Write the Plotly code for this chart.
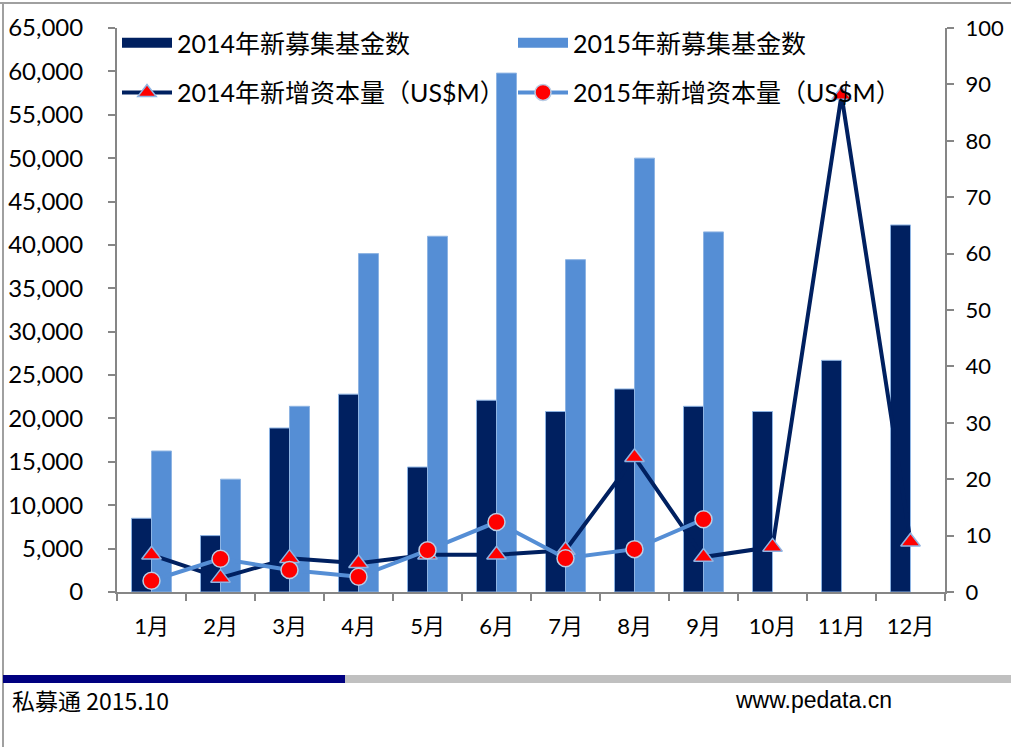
import plotly.graph_objects as go

months = ["1月", "2月", "3月", "4月", "5月", "6月", "7月", "8月", "9月", "10月", "11月", "12月"]
funds_2014 = [8500, 6500, 18900, 22800, 14400, 22100, 20800, 23400, 21400, 20800, 26700, 42300]
funds_2015 = [16250, 13000, 21400, 39000, 41000, 59800, 38300, 50000, 41500]
capital_2014 = [6.6, 2.5, 6.0, 5.1, 6.6, 6.6, 7.4, 23.9, 6.2, 8.0, 88.1, 8.9]
capital_2015 = [2.0, 5.9, 3.9, 2.7, 7.4, 12.4, 6.0, 7.6, 12.9]

NAVY = "#002060"
LBLUE = "#558ed5"
FONT = "Lato, Noto Sans CJK SC, sans-serif"

fig = go.Figure()
fig.add_trace(go.Bar(x=months, y=funds_2014, name="2014年新募集基金数",
                     marker=dict(color=NAVY, line=dict(color="#8eb4e3", width=1)),
                     showlegend=False))
fig.add_trace(go.Bar(x=months[:len(funds_2015)], y=funds_2015, name="2015年新募集基金数",
                     marker=dict(color=LBLUE, line=dict(color="#8eb4e3", width=1)),
                     showlegend=False))
# legend swatches for the bar series (wide rectangles like the reference)
fig.add_trace(go.Scatter(x=[None], y=[None], name="2014年新募集基金数", mode="lines",
                         line=dict(color=NAVY, width=14), legend="legend"))
fig.add_trace(go.Scatter(x=[None], y=[None], name="2015年新募集基金数", mode="lines",
                         line=dict(color=LBLUE, width=14), legend="legend"))
fig.add_trace(go.Scatter(x=months, y=capital_2014, name="2014年新增资本量（US$M）",
                         yaxis="y2", mode="lines+markers",
                         line=dict(color=NAVY, width=4),
                         marker=dict(symbol="triangle-up", size=17, color="#ff0000",
                                     line=dict(color="#8eb4e3", width=1.5)),
                         legend="legend2"))
fig.add_trace(go.Scatter(x=months[:len(capital_2015)], y=capital_2015, name="2015年新增资本量（US$M）",
                         yaxis="y2", mode="lines+markers",
                         line=dict(color=LBLUE, width=4),
                         marker=dict(symbol="circle", size=17, color="#ff0000",
                                     line=dict(color="#b9cde5", width=1.5)),
                         legend="legend2"))

axis_line = "#868686"
fig.update_layout(
    width=1011, height=747,
    margin=dict(l=117, r=66, t=28, b=155, autoexpand=False),
    paper_bgcolor="white", plot_bgcolor="white",
    font=dict(family=FONT, size=20, color="black"),
    barmode="group", bargap=0.42, bargroupgap=0,
    showlegend=True,
    xaxis=dict(type="category", range=[-0.5, 11.5], showline=True, linecolor=axis_line, linewidth=2,
               ticks="outside", tickson="boundaries", ticklen=7, tickcolor=axis_line,
               tickwidth=2, showgrid=False, tickfont=dict(size=22, family=FONT),
               ticklabelstandoff=14, automargin=False),
    yaxis=dict(range=[0, 65000], dtick=5000, tickformat=",", showline=True,
               linecolor=axis_line, linewidth=2, ticks="outside", ticklen=7,
               tickcolor=axis_line, tickwidth=2, showgrid=False, zeroline=False,
               tickfont=dict(size=24, family=FONT), ticklabelstandoff=20, automargin=False),
    yaxis2=dict(range=[0, 100], dtick=10, overlaying="y", side="right", showline=True,
                linecolor=axis_line, linewidth=2, ticks="outside", ticklen=7,
                tickcolor=axis_line, tickwidth=2, showgrid=False, zeroline=False,
                tickfont=dict(size=22, family=FONT), ticklabelstandoff=7, automargin=False),
    legend=dict(orientation="h", x=0.0, y=1.014, xanchor="left", yanchor="top",
                entrywidth=331, entrywidthmode="pixels", itemwidth=50, bgcolor="rgba(0,0,0,0)",
                font=dict(size=25, family=FONT), traceorder="normal"),
    legend2=dict(orientation="h", x=0.0, y=0.926, xanchor="left", yanchor="top",
                 entrywidth=331, entrywidthmode="pixels", itemwidth=50, bgcolor="rgba(0,0,0,0)",
                 font=dict(size=25, family=FONT), traceorder="normal"),
)

# frame and footer
fig.add_shape(type="line", xref="paper", yref="paper", x0=-117/828, x1=(1011-117)/828,
              y0=1 + 25/564, y1=1 + 25/564, line=dict(color="#a0a0a0", width=2))
fig.add_shape(type="line", xref="paper", yref="paper", x0=-114/828, x1=-114/828,
              y0=-155/564, y1=1 + 25/564, line=dict(color="#a0a0a0", width=2))
fig.add_shape(type="rect", xref="paper", yref="paper", x0=-114/828, x1=(345-117)/828,
              y0=-(683-592)/564, y1=-(675-592)/564, fillcolor="#000080", line=dict(width=0))
fig.add_shape(type="rect", xref="paper", yref="paper", x0=(345-117)/828, x1=(1011-117)/828,
              y0=-(683-592)/564, y1=-(675-592)/564, fillcolor="#c0c0c0", line=dict(width=0))
fig.add_annotation(text="私募通 2015.10", xref="paper", yref="paper",
                   x=(10-117)/828, y=-(700-592)/564, xanchor="left", yanchor="middle",
                   showarrow=False, font=dict(size=23, family="Liberation Sans Narrow, Noto Sans CJK SC", color="black"))
fig.add_annotation(text="www.pedata.cn", xref="paper", yref="paper",
                   x=(733-117)/828, y=-(700-592)/564, xanchor="left", yanchor="middle",
                   showarrow=False, font=dict(size=23, family="Liberation Sans Narrow, Liberation Sans", color="black"))

fig.write_html("out.html", config={"displayModeBar": False},
               post_script="document.body.style.margin='0';")
